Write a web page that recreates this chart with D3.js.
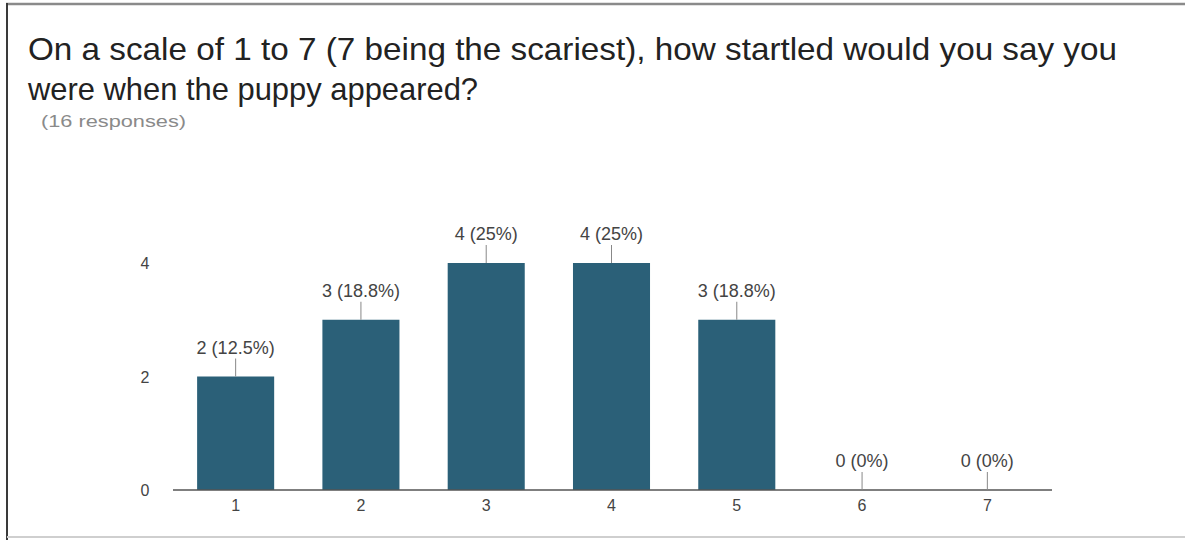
<!DOCTYPE html>
<html><head><meta charset="utf-8">
<script src="https://cdn.jsdelivr.net/npm/d3@7"></script>
<style>html,body{margin:0;padding:0;background:#fff;}svg{display:block;}</style>
</head><body>
<svg id="c" width="1185" height="540"></svg>
<script>
const categories = ["1","2","3","4","5","6","7"];
const counts = [2,3,4,4,3,0,0];
const labels = ["2 (12.5%)","3 (18.8%)","4 (25%)","4 (25%)","3 (18.8%)","0 (0%)","0 (0%)"];
const yTicks = [0,2,4];
const titleLines = ["On a scale of 1 to 7 (7 being the scariest), how startled would you say you","were when the puppy appeared?"];
const subtitle = "(16 responses)";

const FONT = "'Liberation Sans', Arial, Helvetica, sans-serif";
const svg = d3.select("#c");
// frame
svg.append("rect").attr("x",0).attr("y",0).attr("width",1185).attr("height",540).attr("fill","#fff");
svg.append("line").attr("x1",6).attr("x2",1185).attr("y1",4).attr("y2",4).attr("stroke","#8a8a8a").attr("stroke-width",2.5);
svg.append("line").attr("x1",7).attr("x2",7).attr("y1",3).attr("y2",540).attr("stroke","#3a3a3a").attr("stroke-width",2);
svg.append("line").attr("x1",7).attr("x2",1185).attr("y1",537).attr("y2",537).attr("stroke","#cfcfcf").attr("stroke-width",2);

const title = svg.append("text").attr("font-family",FONT).attr("font-size",32).attr("fill","#222");
title.append("tspan").attr("x",28).attr("y",60).attr("textLength",1089).attr("lengthAdjust","spacingAndGlyphs").text(titleLines[0]);
title.append("tspan").attr("x",28).attr("y",100).attr("textLength",450).attr("lengthAdjust","spacingAndGlyphs").text(titleLines[1]);

svg.append("text").attr("x",41).attr("y",127).attr("font-family",FONT)
  .attr("font-size",17).attr("fill","#8a8a8a").attr("textLength",145).attr("lengthAdjust","spacingAndGlyphs").text(subtitle);

const x = d3.scaleBand().domain(categories).range([173,1050]).paddingInner(0.385).paddingOuter(0.1925);
const y = d3.scaleLinear().domain([0,4]).range([490,263]);

// bars
svg.selectAll("rect.bar").data(counts).enter().append("rect").attr("class","bar")
  .attr("x",(d,i)=>x(categories[i])).attr("width",x.bandwidth())
  .attr("y",d=>y(d)).attr("height",d=>y(0)-y(d)).attr("fill","#2b6078");

// axis baseline
svg.append("line").attr("x1",173).attr("x2",1052).attr("y1",y(0)).attr("y2",y(0)).attr("stroke","#555").attr("stroke-width",1.5);

// y tick labels
svg.selectAll("text.yt").data(yTicks).enter().append("text").attr("class","yt")
  .attr("x",145).attr("y",d=>y(d)+6).attr("text-anchor","middle")
  .attr("font-family",FONT).attr("font-size",16).attr("fill","#444").text(d=>d);

// x tick labels
svg.selectAll("text.xt").data(categories).enter().append("text").attr("class","xt")
  .attr("x",d=>x(d)+x.bandwidth()/2).attr("y",511).attr("text-anchor","middle")
  .attr("font-family",FONT).attr("font-size",16).attr("fill","#444").text(d=>d);

// annotation leader lines and labels
counts.forEach((d,i)=>{
  const cx = x(categories[i])+x.bandwidth()/2;
  const top = y(d);
  svg.append("line").attr("x1",cx).attr("x2",cx).attr("y1",top).attr("y2",top-18).attr("stroke","#888").attr("stroke-width",1);
  svg.append("text").attr("x",cx).attr("y",top-23).attr("text-anchor","middle")
    .attr("font-family",FONT).attr("font-size",18).attr("fill","#444").text(labels[i]);
});
</script>
</body></html>
